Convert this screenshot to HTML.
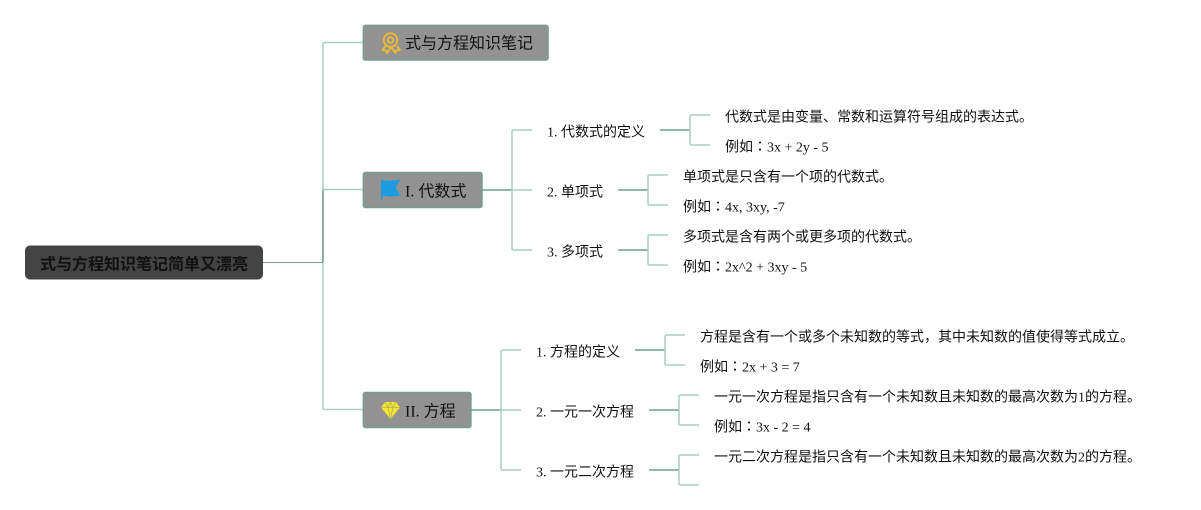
<!DOCTYPE html>
<html><head><meta charset="utf-8"><style>
html,body{margin:0;padding:0;background:#fff;width:1201px;height:510px;overflow:hidden}
svg{display:block}
text{font-family:"Liberation Serif","WenQuanYi Zen Hei","Noto Sans CJK SC",sans-serif;fill:#111}
.l{font-size:14px}
.m{font-size:14px}
.b{font-size:16px}
.c{font-family:"Noto Sans CJK TC",sans-serif;font-size:14px}
.lt{fill:none;stroke:#a9cec4;stroke-width:1.5}
.dk{fill:none;stroke:#6f9f92;stroke-width:1.5}
.th{fill:none;stroke:#6f9f92;stroke-width:1}
.n{fill:#929292;stroke:#6f9f92;stroke-width:1.4}
</style></head><body>
<svg width="1201" height="510" viewBox="0 0 1201 510" xmlns="http://www.w3.org/2000/svg">
<path class="lt" d="M363 42.500H324.500Q323 42.500 323 44V408Q323 409.500 324.500 409.500H363"/>
<path class="dk" d="M323 189.500V262"/>
<path class="lt" d="M323 189.500H363"/>
<path class="th" d="M263 262.500H323"/>
<rect x="25" y="245.500" width="238" height="34" rx="5" fill="#444"/>
<text x="144" y="269.500" text-anchor="middle" font-size="16" font-weight="bold">式与方程知识笔记简单又漂亮</text>

<rect class="n" x="363.300" y="25.300" width="184.800" height="34.800" rx="2"/>
<rect class="n" x="363.300" y="172.500" width="118.700" height="35" rx="2"/>
<rect class="n" x="363.300" y="392.500" width="107.700" height="35" rx="2"/>

<g fill="none" stroke="#e9b83a" stroke-width="2">
<circle cx="390.500" cy="40" r="6.800"/><circle cx="390.500" cy="40" r="2.800"/>
<path d="M385.500 46l-3 4 3.500 .5 1 2.500 3.500-5 1.500 0 3.500 5 1-2.500 3.500-.5-3-4" stroke-linejoin="round"/>
</g>
<text class="b" x="405" y="48.500">式与方程知识笔记</text>

<path d="M381 179.500Q390 182 400.500 179.500L395.500 187.500 400.500 195.500Q390 197.500 382.500 195.500V200H381Z" fill="#1a9be2"/>
<text class="b" x="405" y="196.500">I. 代数式</text>

<path d="M385 402H396L400 407.500 390.500 419 381 407.500Z" fill="#f2e33c"/>
<path d="M381 407.500H400M385 402L388 407.500 390.500 418 393 407.500 396 402M388 407.500L390.500 402 393 407.500" fill="none" stroke="#b9ae44" stroke-width=".7"/>
<text class="b" x="405" y="416.500">II. 方程</text>

<path class="dk" d="M482 190H512"/>
<path class="lt" d="M532 130H513.500Q512 130 512 131.500V248.500Q512 250 513.500 250H532M512 190H532"/>
<path class="dk" d="M471 410H501"/>
<path class="lt" d="M521 350H502.500Q501 350 501 351.500V468.500Q501 470 502.500 470H521M501 410H521"/>

<path class="dk" d="M660 130H690M618 190H648M618 250H648M635 350H665M649 410H679M649 470H679"/>
<path class="lt" d="M710 115H691.500Q690 115 690 116.500V143.500Q690 145 691.500 145H710"/>
<path class="lt" d="M668 175H649.500Q648 175 648 176.500V203.500Q648 205 649.500 205H668"/>
<path class="lt" d="M668 235H649.500Q648 235 648 236.500V263.500Q648 265 649.500 265H668"/>
<path class="lt" d="M685 335H666.500Q665 335 665 336.500V363.500Q665 365 666.500 365H685"/>
<path class="lt" d="M699 395H680.500Q679 395 679 396.500V423.500Q679 425 680.500 425H699"/>
<path class="lt" d="M699 455H680.500Q679 455 679 456.500V483.500Q679 485 680.500 485H699"/>

<text class="m" x="547" y="136.500">1. 代数式的定义</text>
<text class="m" x="547" y="196.500">2. 单项式</text>
<text class="m" x="547" y="256.500">3. 多项式</text>
<text class="m" x="536" y="356.500">1. 方程的定义</text>
<text class="m" x="536" y="416.500">2. 一元一次方程</text>
<text class="m" x="536" y="476.500">3. 一元二次方程</text>

<text class="l" x="725" y="121.500">代数式是由变量、常数和运算符号组成的表达式。</text>
<text class="l" x="725" y="151.500">例如<tspan class="c">：</tspan>3x + 2y - 5</text>
<text class="l" x="683" y="181.500">单项式是只含有一个项的代数式。</text>
<text class="l" x="683" y="211.500">例如<tspan class="c">：</tspan>4x, 3xy, -7</text>
<text class="l" x="683" y="241.500">多项式是含有两个或更多项的代数式。</text>
<text class="l" x="683" y="271.500">例如<tspan class="c">：</tspan>2x^2 + 3xy - 5</text>
<text class="l" x="700" y="341.500">方程是含有一个或多个未知数的等式，其中未知数的值使得等式成立。</text>
<text class="l" x="700" y="371.500">例如<tspan class="c">：</tspan>2x + 3 = 7</text>
<text class="l" x="714" y="401.500">一元一次方程是指只含有一个未知数且未知数的最高次数为1的方程。</text>
<text class="l" x="714" y="431.500">例如<tspan class="c">：</tspan>3x - 2 = 4</text>
<text class="l" x="714" y="461.500">一元二次方程是指只含有一个未知数且未知数的最高次数为2的方程。</text>
</svg>
</body></html>
